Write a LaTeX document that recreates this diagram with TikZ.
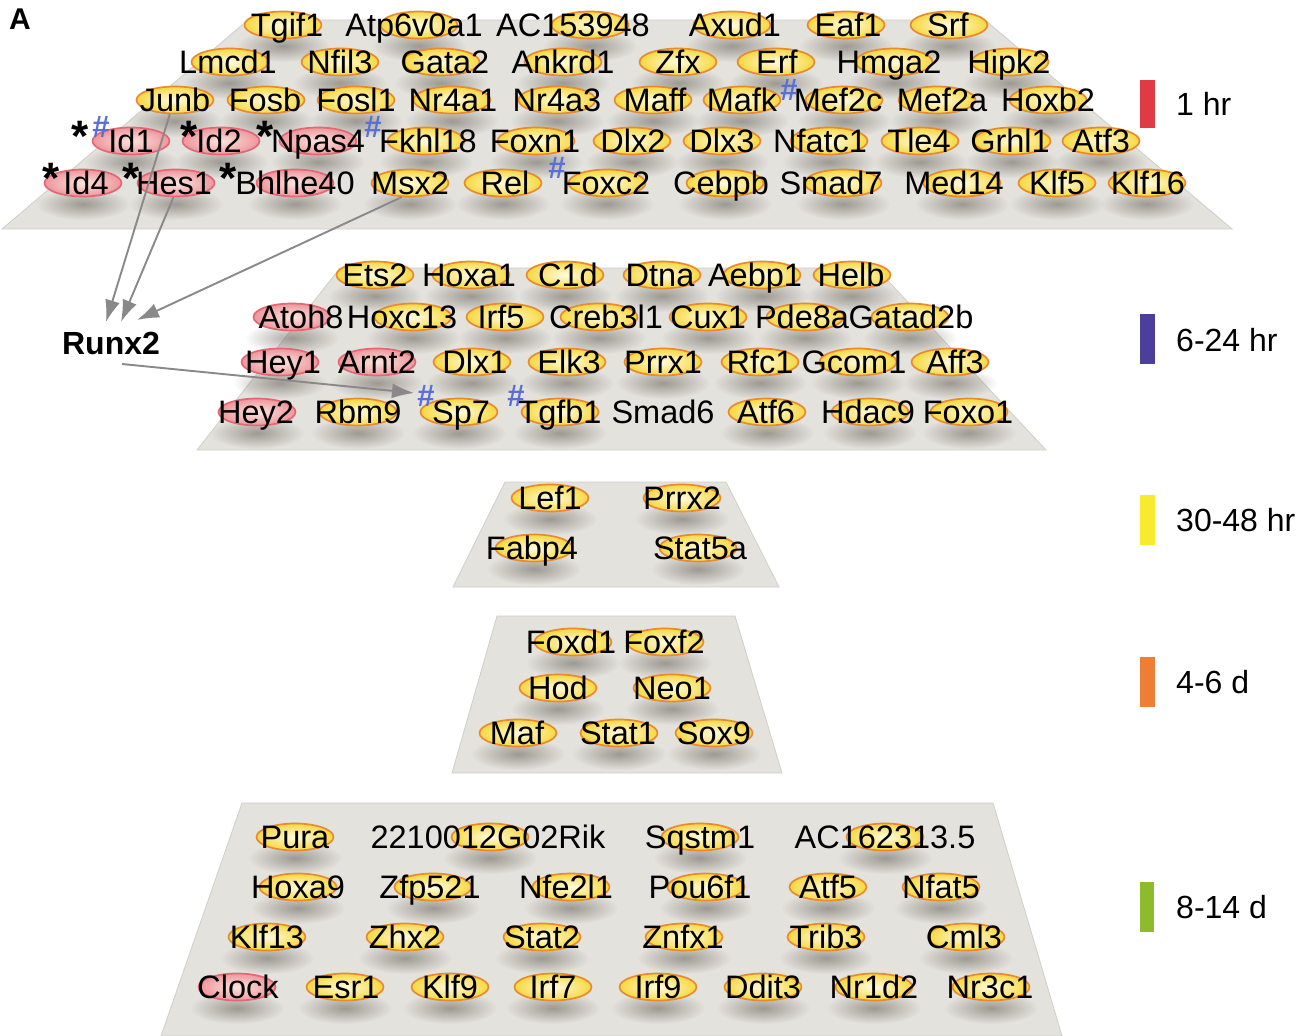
\documentclass[tikz,border=0pt]{standalone}
\usepackage{fontspec}
\setmainfont{Liberation Sans}
\usetikzlibrary{shapes.geometric,arrows.meta,fadings,calc}
\definecolor{planecol}{RGB}{228,226,220}
\definecolor{planeedge}{RGB}{208,206,200}
\definecolor{yelline}{RGB}{232,138,48}
\definecolor{yelin}{RGB}{255,252,226}
\definecolor{yelout}{RGB}{246,216,64}
\definecolor{pinkline}{RGB}{226,104,118}
\definecolor{pinkin}{RGB}{251,228,222}
\definecolor{pinkout}{RGB}{238,150,156}
\definecolor{shadowc}{RGB}{110,106,100}
\definecolor{arrowc}{RGB}{138,136,136}
\definecolor{hashc}{RGB}{88,112,214}
\definecolor{barred}{RGB}{224,58,68}
\definecolor{barblue}{RGB}{75,63,155}
\definecolor{baryel}{RGB}{247,234,47}
\definecolor{barora}{RGB}{238,126,53}
\definecolor{bargrn}{RGB}{141,187,44}
\tikzfading[name=softblob, inner color=transparent!40, outer color=transparent!100]
\newcommand{\genefont}{\fontsize{32.5}{38}\selectfont}
\def\genes{%
tgif/Tgif1/287/25/283/1,atp/Atp6v0a1/414/25/419/1,aca/AC153948/573/25/590/1,axud/Axud1/735/25/732/1,eaf/Eaf1/848/25/846/1,srf/Srf/948/25/949/1,%
lmcd/Lmcd1/228/62/230/1,nfil/Nfil3/340/62/340/1,gata/Gata2/445/62/441/1,ankrd/Ankrd1/563/62/563/1,zfx/Zfx/678/62/678/1,erf/Erf/777/62/776/1,hmga/Hmga2/889/62/894/1,hipk/Hipk2/1009/62/1010/1,%
junb/Junb/175/100/175/1,fosb/Fosb/265/100/266/1,fosl/Fosl1/356/100/356/1,nra/Nr4a1/453/100/452/1,nrb/Nr4a3/557/100/557/1,maff/Maff/655/100/653/1,mafk/Mafk/742/100/742/1,mefc/Mef2c/838/100/844/1,mefa/Mef2a/942/100/937/1,hoxb/Hoxb2/1048/100/1048/1,%
ida/Id1/131/141/131/2,idb/Id2/219/141/221/2,npas/Npas4/318/141/318/2,fkhl/Fkhl18/428/141/426/1,foxn/Foxn1/535/141/536/1,dlxb/Dlx2/633/141/632/1,dlxc/Dlx3/722/141/722/1,nfatc/Nfatc1/820/141/829/1,tle/Tle4/919/141/920/1,grhl/Grhl1/1010/141/1012/1,atfc/Atf3/1101/141/1101/1,%
idd/Id4/86/183/83/2,hes/Hes1/174/183/176/2,bhl/Bhlhe40/295/183/295/2,msx/Msx2/410/183/410/1,rel/Rel/505/183/503/1,foxc/Foxc2/606/183/607/1,cebpb/Cebpb/721/183/725/1,smadg/Smad7/831/183/843/1,med/Med14/954/183/962/1,klfe/Klf5/1057/183/1057/1,klfp/Klf16/1148/183/1147/1,%
ets/Ets2/375/275/375/1,hoxa/Hoxa1/469/275/471/1,cid/C1d/568/275/565/1,dtna/Dtna/660/275/662/1,aebp/Aebp1/755/275/762/1,helb/Helb/851/275/852/1,%
atoh/Atoh8/301/317/292/2,hoxc/Hoxc13/402/317/413/1,irfe/Irf5/501/317/505/1,creb/Creb3l1/606/317/599/1,cux/Cux1/708/317/708/1,pde/Pde8a/802/317/805/1,gatad/Gatad2b/911/317/910/1,%
heya/Hey1/283/362/280/2,arnt/Arnt2/377/362/377/2,dlxa/Dlx1/475/362/472/1,elk/Elk3/569/362/567/1,prrx/Prrx1/663/362/663/1,rfc/Rfc1/760/362/760/1,gcom/Gcom1/854/362/858/1,aff/Aff3/955/362/950/1,%
heyb/Hey2/256/412/257/2,rbm/Rbm9/358/412/358/1,sp/Sp7/461/412/459/1,tgfb/Tgfb1/560/412/560/1,smadf/Smad6/663/412/663/0,atff/Atf6/766/412/767/1,hdac/Hdac9/868/412/870/1,foxo/Foxo1/968/412/969/1,%
lef/Lef1/550/498/550/1,prrxb/Prrx2/682/498/682/1,fabp/Fabp4/532/548/534/1,statf/Stat5a/700/548/698/1,%
foxd/Foxd1/571/642/573/1,foxf/Foxf2/664/642/665/1,hod/Hod/558/688/558/1,neo/Neo1/672/688/672/1,maf/Maf/517/733/518/1,stata/Stat1/618/733/619/1,sox/Sox9/714/733/714/1,%
pura/Pura/295/837/295/1,rik/2210012G02Rik/488/837/490/1,sqstm/Sqstm1/700/837/700/1,acb/AC162313.5/885/837/885/1,%
hoxn/Hoxa9/298/887/298/1,zfp/Zfp521/430/887/433/1,nfe/Nfe2l1/566/887/571/1,pou/Pou6f1/700/887/706/1,atfe/Atf5/828/887/828/1,nfat/Nfat5/941/887/941/1,%
klfm/Klf13/267/937/267/1,zhx/Zhx2/405/937/405/1,statb/Stat2/542/937/542/1,znf/Znfx1/683/937/684/1,trib/Trib3/826/937/826/1,cml/Cml3/964/937/966/1,%
clock/Clock/238/987/237/2,esr/Esr1/346/987/345/1,klfn/Klf9/450/987/450/1,irfg/Irf7/553/987/553/1,irfi/Irf9/658/987/658/1,ddit/Ddit3/763/987/763/1,nrd/Nr1d2/874/987/874/1,nrc/Nr3c1/990/987/991/1%
}
\begin{document}
\begin{tikzpicture}[x=1pt,y=-1pt,
  plane/.style={fill=planecol, draw=planeedge, line width=0.8pt},
  el/.style={ellipse, minimum width=77pt, minimum height=27pt, inner sep=0pt, line width=1.7pt},
  elY/.style={el, draw=yelline, inner color=yelin, outer color=yelout},
  elP/.style={el, draw=pinkline, inner color=pinkin, outer color=pinkout},
  gene/.style={font=\genefont, text height=23.3pt, text depth=0pt, inner sep=0pt},
  starmark/.style={font=\bfseries\fontsize{44}{44}\selectfont, inner sep=0pt, anchor=base},
  hashmark/.style={font=\bfseries\fontsize{31}{31}\selectfont, text=hashc, inner sep=0pt, anchor=base},
  legtext/.style={font=\fontsize{32}{36}\selectfont, text height=23pt, text depth=0pt, inner sep=0pt, anchor=west},
  arr/.style={draw=arrowc, line width=1.9pt, -{Latex[length=22pt,width=15pt]}}]
\useasboundingbox (0,0) rectangle (1310,1036);
\fill[white] (0,0) rectangle (1310,1036);
% planes
\path[plane] (248,20) -- (985,20) -- (1232,229) -- (2,229) -- cycle;
\path[plane] (340,268) -- (876,268) -- (1046,450) -- (197,450) -- cycle;
\path[plane] (505,482) -- (726,482) -- (779,587) -- (453,587) -- cycle;
\path[plane] (497,616) -- (735,616) -- (782,773) -- (452,773) -- cycle;
\path[plane] (242,803) -- (993,803) -- (1062,1036) -- (161,1036) -- cycle;
% shadows
\foreach \i/\t/\x/\y/\e/\k in \genes {%
  \ifnum\k>0 \fill[shadowc, path fading=softblob] (\e,\y+21) ellipse [x radius=47, y radius=16];\fi}
% ellipses
\foreach \i/\t/\x/\y/\e/\k in \genes {%
  \ifcase\k \or \node[elY] (e-\i) at (\e,\y) {};\or \node[elP] (e-\i) at (\e,\y) {};\fi}
% gene names
\foreach \i/\t/\x/\y/\e/\k in \genes {%
  \node[gene] (\i) at (\x,\y) {\t};}
% asterisks
\node[starmark] (s-ida) at (80,151) {*};
\node[starmark] (s-idb) at (189,151) {*};
\node[starmark] (s-npas) at (265,151) {*};
\node[starmark] (s-idd) at (51,193) {*};
\node[starmark] (s-hes) at (131,193) {*};
\node[starmark] (s-bhl) at (228,193) {*};
% hashes
\node[hashmark] (h-ida) at (101,137) {\#};
\node[hashmark] (h-fkhl) at (373,137) {\#};
\node[hashmark] (h-mefc) at (789,100) {\#};
\node[hashmark] (h-foxc) at (557,178) {\#};
\node[hashmark] (h-sp) at (426,406) {\#};
\node[hashmark] (h-tgfb) at (516,406) {\#};
% label A
\node[font=\bfseries\fontsize{30}{30}\selectfont, inner sep=0pt, text height=21pt, text depth=0pt] (lblA) at (20,19) {A};
% Runx2
\node[font=\bfseries\fontsize{32}{36}\selectfont, text height=23pt, text depth=0pt, inner sep=0pt] (runx) at (111,343) {Runx2};
\coordinate (t1) at (106,322);
\coordinate (t2) at (121,322);
\coordinate (t3) at (137,320);
\coordinate (r4) at (122,364);
\coordinate (t4) at (414,393);
\draw[arr] (e-junb.250) -- (t1);
\draw[arr] (e-hes.260) -- (t2);
\draw[arr] (e-msx.240) -- (t3);
\draw[arr] (r4) -- (t4);
% legend
\fill[barred] (1140,80) rectangle (1155,128);
\node[legtext] (l1) at (1176,104) {1 hr};
\fill[barblue] (1140,314) rectangle (1155,364);
\node[legtext] (l2) at (1176,340) {6-24 hr};
\fill[baryel] (1140,495) rectangle (1155,545);
\node[legtext] (l3) at (1176,520) {30-48 hr};
\fill[barora] (1140,657) rectangle (1155,707);
\node[legtext] (l4) at (1176,682) {4-6 d};
\fill[bargrn] (1140,882) rectangle (1154,932);
\node[legtext] (l5) at (1176,907) {8-14 d};
\end{tikzpicture}
\end{document}
